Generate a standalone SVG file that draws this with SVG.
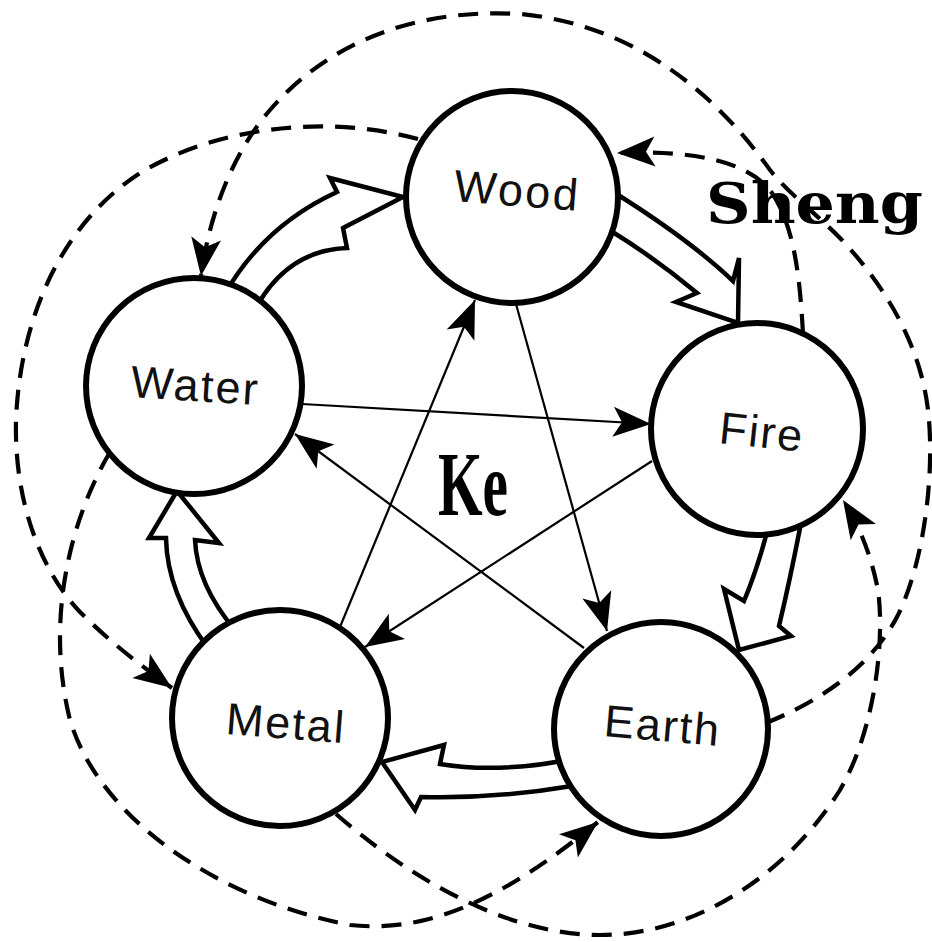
<svg xmlns="http://www.w3.org/2000/svg" width="932" height="942" viewBox="0 0 932 942">
<style>
.node{fill:#fff;stroke:#000;stroke-width:6}
.lbl{font-family:"Liberation Sans",Arial,sans-serif;font-size:45px;fill:#111}
.ke{stroke:#000;stroke-width:2.2;fill:none;marker-end:url(#ah)}
.dash{stroke:#000;stroke-width:4.2;fill:none;stroke-dasharray:20 12;marker-end:url(#ah)}
.sheng{fill:#fff;stroke:#000;stroke-width:4.5;stroke-linejoin:miter}
.title{font-weight:bold;fill:#000}
</style>
<defs>
<marker id="ah" markerUnits="userSpaceOnUse" viewBox="-42 -18 44 36" refX="0" refY="0" markerWidth="44" markerHeight="36" orient="auto">
<path d="M0,0 L-38,-15 L-29,0 L-38,15 Z" fill="#000"/>
</marker>
</defs>
<rect width="932" height="942" fill="#fff"/>
<g id="connectors">
<!-- Sheng cycle (hollow arrows) -->
<path class="sheng" d="M226,292 Q265,225 337,192 L330,178 L403,197 L343,228 L347,248 Q290,250 258,304"/>
<path class="sheng" d="M615,193 Q690,240 733,281 L739,258 L738,323 L676,302 L697,293 Q655,258 611,231"/>
<path class="sheng" d="M767,532 Q757,570 744,601 L724,589 L739,650 L791,636 L779,626 Q790,580 801,523"/>
<path class="sheng" d="M562,761 Q495,773 440,764 L444,745 L382,762 L415,810 L421,797 Q495,799 572,786"/>
<path class="sheng" d="M208,648 Q167,593 166,538 L149,538 L177,491 L219,543 L195,540 Q197,585 235,630"/>
<!-- Ke cycle (thin star lines) -->
<line class="ke" x1="302" y1="404" x2="651" y2="424"/>
<line class="ke" x1="652" y1="461" x2="365" y2="647"/>
<line class="ke" x1="340" y1="627" x2="475" y2="300"/>
<line class="ke" x1="516" y1="304" x2="607" y2="631"/>
<line class="ke" x1="584" y1="648" x2="295" y2="434"/>
<!-- dashed arcs -->
<path class="dash" d="M803,334 C800,280 795,225 770,190 C745,160 690,150 617,153"/>
<path class="dash" d="M766,723 C815,703 870,670 898,615 C925,560 935,470 928,410 C920,340 880,280 840,238 C810,208 790,195 770,170 C720,100 640,25 520,14 C420,8 330,40 270,110 C235,150 210,210 201,276"/>
<path class="dash" d="M418,139 C330,115 220,125 140,173 C60,225 20,320 16,420 C14,500 40,570 80,612 C110,642 140,665 172,688"/>
<path class="dash" d="M110,452 C70,520 45,620 70,720 C100,820 220,900 350,925 C440,935 520,885 598,822"/>
<path class="dash" d="M336,814 C400,870 500,935 600,935 C700,935 790,870 840,790 C875,730 885,640 878,590 C872,560 862,530 843,500"/>
</g>
<g id="wood"><circle class="node" cx="512" cy="197" r="106"/><text class="lbl" x="453" y="201" textLength="124" transform="rotate(4.5 453 201)">Wood</text></g>
<g id="water"><circle class="node" cx="194" cy="386" r="108"/><text class="lbl" x="130" y="397" textLength="127" transform="rotate(3.6 130 397)">Water</text></g>
<g id="fire"><circle class="node" cx="757" cy="429" r="106"/><text class="lbl" x="718" y="443" textLength="83" font-size="42" transform="rotate(6 718 443)">Fire</text></g>
<g id="metal"><circle class="node" cx="280" cy="718" r="108"/><text class="lbl" x="225" y="734" textLength="118" transform="rotate(4.4 225 734)">Metal</text></g>
<g id="earth"><circle class="node" cx="661" cy="729" r="107"/><text class="lbl" x="603" y="736" textLength="115" transform="rotate(5 603 736)">Earth</text></g>
<g id="labels">
<text class="title" x="706" y="223" font-family="'DejaVu Serif',serif" font-size="56" textLength="217" lengthAdjust="spacingAndGlyphs">Sheng</text>
<text class="title" x="438" y="515" font-family="'Liberation Serif',serif" font-size="92" textLength="70" lengthAdjust="spacingAndGlyphs">Ke</text>
</g>
</svg>
